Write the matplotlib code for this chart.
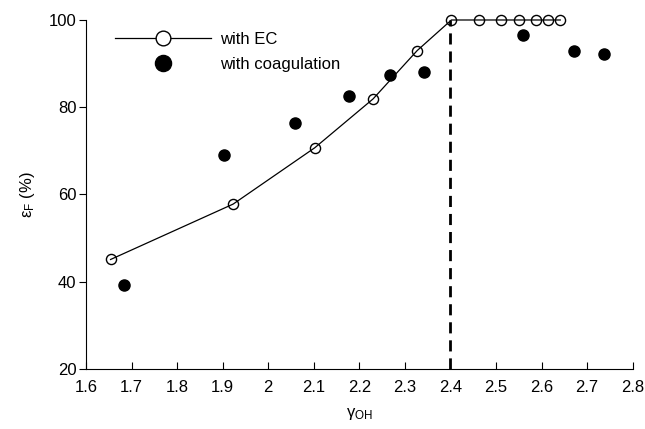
import matplotlib.pyplot as plt

plt.rcParams['font.family'] = ['Liberation Sans', 'DejaVu Sans']

ec_x = [1.654, 1.923, 2.102, 2.230, 2.327, 2.402, 2.462, 2.510, 2.551, 2.587, 2.614, 2.641]
ec_y = [45.1, 57.8, 70.7, 81.9, 93.0, 100, 100, 100, 100, 100, 100, 100]

coag_x = [1.683, 1.903, 2.059, 2.177, 2.268, 2.342, 2.560, 2.671, 2.736]
coag_y = [39.2, 69.0, 76.4, 82.5, 87.3, 88.1, 96.6, 92.9, 92.3]

threshold_x = 2.4
x_ticks = [1.6, 1.7, 1.8, 1.9, 2.0, 2.1, 2.2, 2.3, 2.4, 2.5, 2.6, 2.7, 2.8]
x_labels = ['1.6', '1.7', '1.8', '1.9', '2', '2.1', '2.2', '2.3', '2.4', '2.5', '2.6', '2.7', '2.8']
y_ticks = [20, 40, 60, 80, 100]

fig = plt.figure(figsize=(6.45, 4.29), dpi=100)
ax = fig.add_axes([0.1333, 0.1399, 0.8477, 0.8135])

ax.plot(ec_x, ec_y, color='black', lw=0.9, marker='o', ms=7.3,
        mfc='none', mec='black', mew=1.0, label='with EC', zorder=3,
        clip_on=False)
ax.plot(coag_x, coag_y, ls='none', marker='o', ms=8, color='black',
        label='with coagulation', zorder=3, clip_on=False)
ax.plot([threshold_x, threshold_x], [20, 100], color='black', lw=2,
        ls=(0, (4, 2.5)), zorder=2)

ax.set_xlim(1.6, 2.8)
ax.set_ylim(20, 100)
ax.set_xticks(x_ticks)
ax.set_xticklabels(x_labels)
ax.set_yticks(y_ticks)
ax.tick_params(axis='x', direction='in', length=5, labelsize=12, pad=8)
ax.tick_params(axis='y', direction='out', length=5, labelsize=12, pad=2)
for side in ('top', 'right'):
    ax.spines[side].set_visible(False)

ax.set_xlabel(r'$\mathregular{\gamma_{OH}}$', fontsize=12, labelpad=8)
ax.set_ylabel(r'$\mathregular{\varepsilon_F}$ (%)', fontsize=12, labelpad=8)

leg = ax.legend(loc='upper left', bbox_to_anchor=(0.025, 1.01), frameon=False,
                fontsize=12, markerscale=1.45, handlelength=5.8,
                labelspacing=0.6, handletextpad=0.5)
# legend marker in the reference is opaque white
leg.legend_handles[0].set_markerfacecolor('white')

fig.savefig('out.png', dpi=100)
